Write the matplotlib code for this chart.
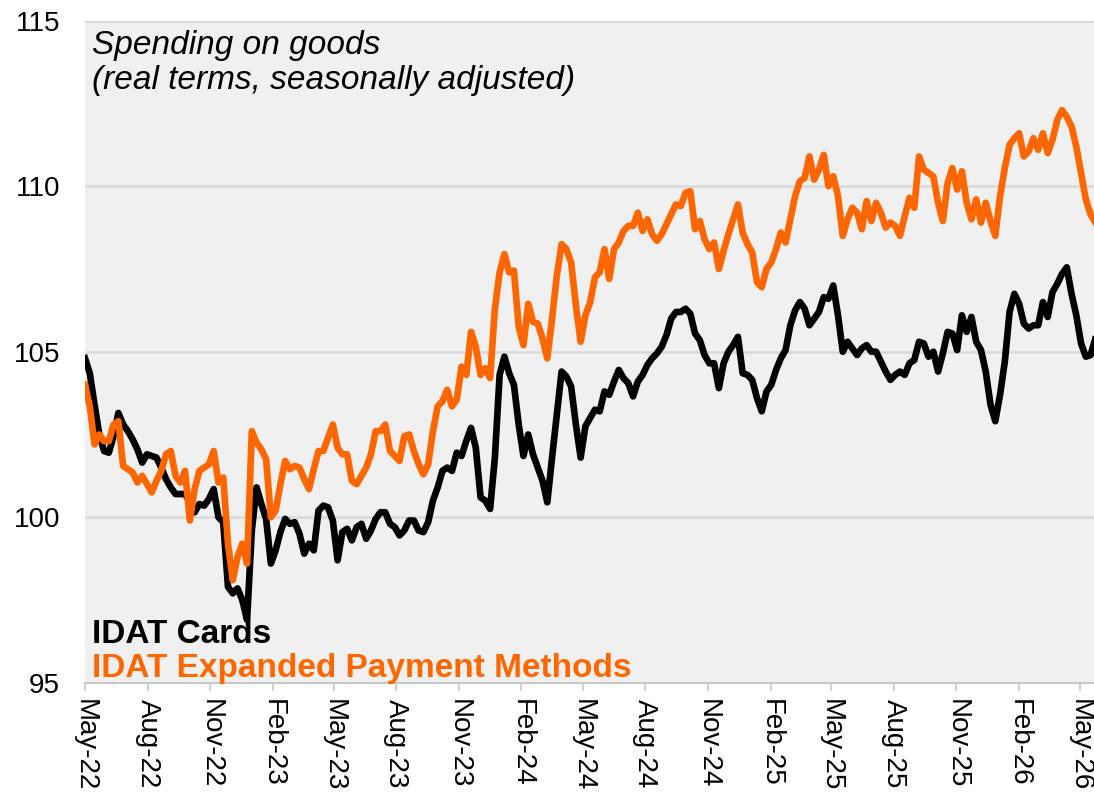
import numpy as np
import pandas as pd
import matplotlib
matplotlib.use('Agg')
import matplotlib.pyplot as plt
import matplotlib.dates as mdates

plt.rcParams['font.family'] = ['Liberation Sans', 'DejaVu Sans']

# weekly readings, starting 1 May 2022
start_date = '2022-05-01'

cards = [
    104.8, 104.35, 103.4, 102.5, 102.0, 101.95, 102.45, 103.15, 102.8, 102.6,
    102.35, 102.05, 101.65, 101.9, 101.85, 101.8, 101.5, 101.15, 100.9, 100.7,
    100.7, 100.7, 100.45, 100.15, 100.4, 100.35, 100.55, 100.85, 100.0, 99.85,
    97.9, 97.7, 97.85, 97.5, 96.9, 99.6, 100.9, 100.4, 99.95, 98.6,
    99.0, 99.55, 99.95, 99.8, 99.85, 99.5, 98.9, 99.2, 99.0, 100.2,
    100.35, 100.3, 99.9, 98.7, 99.55, 99.65, 99.3, 99.7, 99.8, 99.35,
    99.6, 99.95, 100.15, 100.15, 99.8, 99.7, 99.45, 99.6, 99.9, 99.9,
    99.6, 99.55, 99.85, 100.5, 100.9, 101.4, 101.5, 101.4, 101.95, 101.85,
    102.3, 102.7, 102.1, 100.6, 100.5, 100.25, 101.8, 104.3, 104.85, 104.35,
    104.0, 102.8, 101.85, 102.5, 101.9, 101.5, 101.1, 100.45, 101.8, 103.1,
    104.4, 104.25, 103.95, 102.8, 101.8, 102.75, 103.0, 103.25, 103.2, 103.8,
    103.7, 104.1, 104.45, 104.2, 104.05, 103.65, 104.1, 104.3, 104.6, 104.8,
    104.95, 105.15, 105.5, 106.0, 106.2, 106.2, 106.3, 106.15, 105.55, 105.35,
    104.9, 104.65, 104.65, 103.9, 104.65, 105.0, 105.2, 105.45, 104.35, 104.3,
    104.15, 103.6, 103.2, 103.8, 104.0, 104.45, 104.8, 105.05, 105.8, 106.25,
    106.5, 106.3, 105.8, 106.0, 106.2, 106.65, 106.6, 107.0, 106.1, 105.0,
    105.3, 105.1, 104.9, 105.1, 105.2, 105.0, 105.0, 104.7, 104.4, 104.15,
    104.3, 104.4, 104.3, 104.65, 104.75, 105.3, 105.25, 104.85, 105.0, 104.4,
    104.95, 105.6, 105.55, 105.05, 106.1, 105.6, 106.05, 105.3, 105.05, 104.4,
    103.4, 102.9, 103.7, 104.7, 106.2, 106.75, 106.45, 105.85, 105.7, 105.8,
    105.8, 106.5, 106.05, 106.8, 107.05, 107.35, 107.55, 106.75, 106.1, 105.25,
    104.85, 104.9, 105.4,
]

expanded = [
    104.0, 103.35, 102.2, 102.5, 102.3, 102.3, 102.8, 102.9, 101.55, 101.45,
    101.35, 101.05, 101.25, 101.0, 100.75, 101.1, 101.4, 101.9, 102.0, 101.25,
    101.05, 101.4, 99.9, 100.85, 101.4, 101.5, 101.6, 102.0, 101.05, 101.2,
    99.2, 98.1, 98.8, 99.2, 98.6, 102.6, 102.25, 102.05, 101.75, 100.0,
    100.2, 101.0, 101.7, 101.45, 101.55, 101.5, 101.15, 100.85, 101.45, 102.0,
    102.0, 102.4, 102.8, 102.1, 101.9, 101.9, 101.1, 101.0, 101.25, 101.5,
    101.9, 102.6, 102.6, 102.8, 102.0, 101.85, 101.7, 102.45, 102.5, 102.0,
    101.6, 101.3, 101.6, 102.6, 103.35, 103.5, 103.85, 103.35, 103.55, 104.55,
    104.3, 105.6, 105.15, 104.3, 104.5, 104.2, 106.3, 107.4, 107.95, 107.4,
    107.45, 105.75, 105.2, 106.45, 105.9, 105.85, 105.4, 104.8, 106.0, 107.3,
    108.25, 108.1, 107.7, 106.4, 105.3, 106.1, 106.5, 107.25, 107.4, 108.1,
    107.2, 108.1, 108.3, 108.65, 108.8, 108.8, 109.2, 108.65, 109.0, 108.55,
    108.35, 108.55, 108.85, 109.15, 109.45, 109.4, 109.8, 109.85, 108.7, 108.95,
    108.4, 108.1, 108.3, 107.5, 108.05, 108.55, 109.0, 109.45, 108.6, 108.25,
    108.0, 107.1, 106.95, 107.5, 107.7, 108.1, 108.6, 108.3, 109.0, 109.7,
    110.15, 110.25, 110.9, 110.2, 110.5, 110.95, 110.0, 110.3, 109.7, 108.5,
    109.0, 109.35, 109.2, 108.7, 109.55, 108.95, 109.5, 109.2, 108.75, 108.9,
    108.8, 108.5, 109.1, 109.65, 109.35, 110.9, 110.5, 110.4, 110.3, 109.5,
    108.95, 110.1, 110.55, 109.9, 110.45, 109.5, 109.0, 109.6, 108.9, 109.5,
    108.95, 108.5, 109.7, 110.55, 111.25, 111.45, 111.6, 110.9, 111.05, 111.45,
    111.1, 111.6, 111.0, 111.4, 112.0, 112.3, 112.1, 111.8, 111.2, 110.4,
    109.6, 109.15, 108.9,
]

dates = pd.date_range(start_date, periods=len(cards), freq='7D')

orange = '#ff6600'
bg = '#f0f0f0'
grid_c = '#d9d9d9'

fig = plt.figure(figsize=(10.94, 8), dpi=100)
ax = fig.add_axes([0.0777, 0.1466, 0.9223, 0.8275])
ax.set_facecolor(bg)

ax.plot(dates, cards, color='black', lw=4.8, solid_joinstyle='round', zorder=3)
ax.plot(dates, expanded, color=orange, lw=4.8, solid_joinstyle='round', zorder=4)

ax.set_ylim(95, 115)
ax.set_yticks([95, 100, 105, 110, 115])
ax.set_xlim(pd.Timestamp('2022-05-01'), pd.Timestamp('2026-05-22'))

ax.xaxis.set_major_locator(mdates.MonthLocator(bymonth=[2, 5, 8, 11]))
ax.xaxis.set_major_formatter(mdates.DateFormatter('%b-%y'))

ax.grid(axis='y', color=grid_c, lw=1.8, zorder=1)
ax.set_axisbelow(True)
for s in ['left', 'right', 'top']:
    ax.spines[s].set_visible(False)
ax.spines['bottom'].set_color('#c8c8c8')
ax.spines['bottom'].set_linewidth(1.5)

ax.tick_params(axis='y', length=0, labelsize=20, pad=18)
ax.tick_params(axis='x', length=6, width=1.2, color='#c8c8c8', labelsize=20,
               labelrotation=-90, pad=6)
for lab in ax.get_xticklabels():
    lab.set_ha('center')
    lab.set_va('top')

# title inside the plot
ax.text(0.007, 0.95, 'Spending on goods', transform=ax.transAxes,
        fontsize=24, style='italic', va='baseline', ha='left')
ax.text(0.007, 0.897, '(real terms, seasonally adjusted)', transform=ax.transAxes,
        fontsize=24, style='italic', va='baseline', ha='left')

# series labels
ax.text(0.007, 0.06, 'IDAT Cards', transform=ax.transAxes,
        fontsize=24, fontweight='bold', color='black', va='baseline', ha='left', zorder=5)
ax.text(0.007, 0.008, 'IDAT Expanded Payment Methods', transform=ax.transAxes,
        fontsize=24, fontweight='bold', color=orange, va='baseline', ha='left', zorder=5)

fig.savefig('out.png', dpi=100)
